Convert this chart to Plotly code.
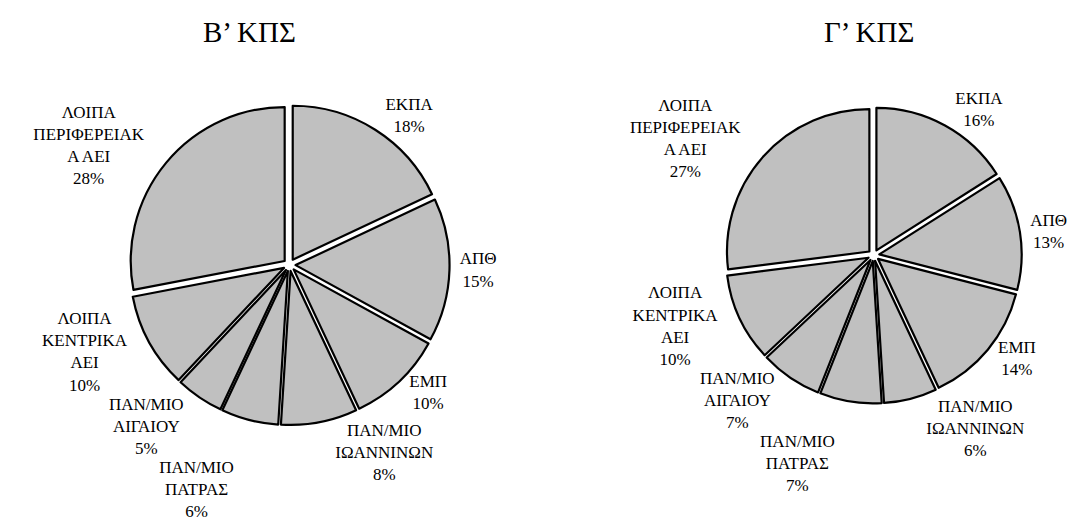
import plotly.graph_objects as go

categories = ["ΕΚΠΑ", "ΑΠΘ", "ΕΜΠ", "ΠΑΝ/ΜΙΟ ΙΩΑΝΝΙΝΩΝ", "ΠΑΝ/ΜΙΟ ΠΑΤΡΑΣ",
              "ΠΑΝ/ΜΙΟ ΑΙΓΑΙΟΥ", "ΛΟΙΠΑ ΚΕΝΤΡΙΚΑ ΑΕΙ", "ΛΟΙΠΑ ΠΕΡΙΦΕΡΕΙΑΚΑ ΑΕΙ"]
wrapped_labels = ["ΕΚΠΑ", "ΑΠΘ", "ΕΜΠ", "ΠΑΝ/ΜΙΟ<br>ΙΩΑΝΝΙΝΩΝ", "ΠΑΝ/ΜΙΟ<br>ΠΑΤΡΑΣ",
                  "ΠΑΝ/ΜΙΟ<br>ΑΙΓΑΙΟΥ", "ΛΟΙΠΑ<br>ΚΕΝΤΡΙΚΑ<br>ΑΕΙ", "ΛΟΙΠΑ<br>ΠΕΡΙΦΕΡΕΙΑΚ<br>Α ΑΕΙ"]
values_b = [18, 15, 10, 8, 6, 5, 10, 28]
values_c = [16, 13, 14, 6, 7, 7, 10, 27]
titles = ["Β’ ΚΠΣ", "Γ’ ΚΠΣ"]

FONT = "Liberation Serif, Times New Roman, serif"
label_font = dict(family=FONT, size=17, color="black")

fig = go.Figure()
for vals, dom in [(values_b, dict(x=[0.0901, 0.4026], y=[0.1823, 0.8102])),
                  (values_c, dict(x=[0.6562, 0.9504], y=[0.2247, 0.8055]))]:
    fig.add_trace(go.Pie(
        labels=categories, values=vals, text=wrapped_labels,
        texttemplate="%{text}<br>%{percent:.0%}",
        textposition="outside",
        sort=False, direction="clockwise", rotation=0,
        pull=[0.04] * len(vals),
        marker=dict(colors=["#c0c0c0"] * len(vals), line=dict(color="black", width=2.2)),
        textfont=label_font, outsidetextfont=label_font, insidetextfont=label_font,
        domain=dom, showlegend=False, hoverinfo="label+percent",
    ))

fig.update_layout(
    width=1088, height=530,
    margin=dict(l=0, r=0, t=0, b=0),
    paper_bgcolor="white", plot_bgcolor="white",
    font=dict(family=FONT, color="black"),
    annotations=[
        dict(text=titles[0], x=0.2086, y=0.953, xref="paper", yref="paper",
             showarrow=False, xanchor="center", yanchor="middle",
             font=dict(family=FONT, size=29, color="black")),
        dict(text=titles[1], x=0.7987, y=0.953, xref="paper", yref="paper",
             showarrow=False, xanchor="center", yanchor="middle",
             font=dict(family=FONT, size=29, color="black")),
    ],
)
# the reference has no leader lines next to the outside labels
hide_leaders = "document.querySelectorAll('path.textline').forEach(function(e){e.style.display='none';});"
fig.write_html("out.html", post_script=hide_leaders)
